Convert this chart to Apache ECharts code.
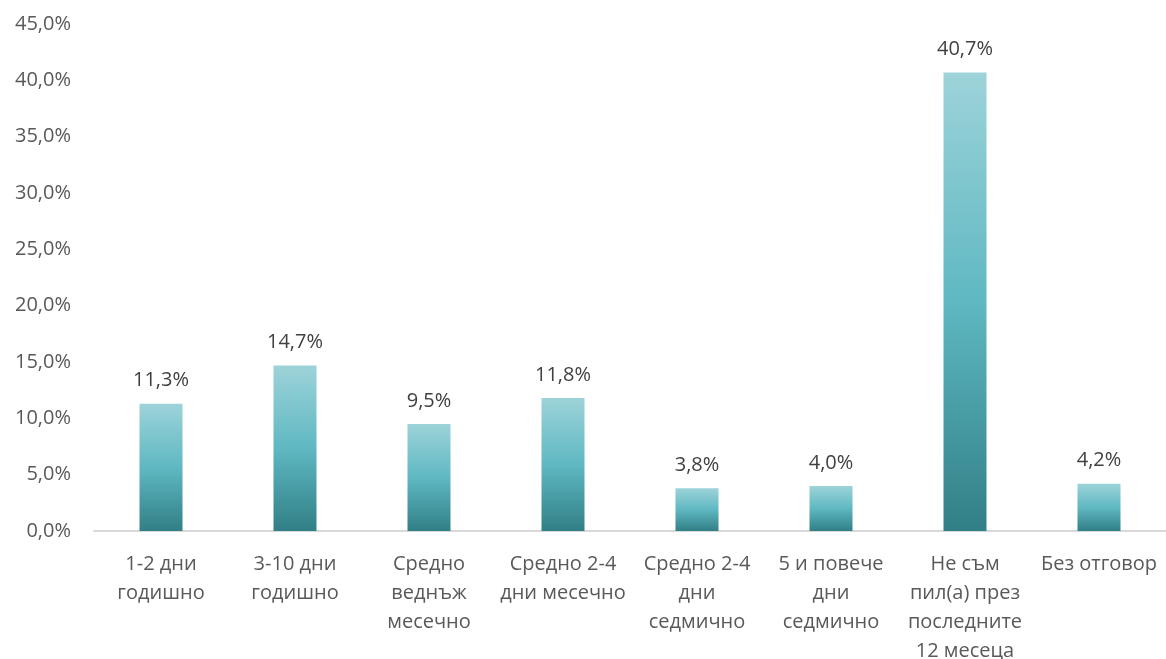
<!DOCTYPE html>
<html>
<head>
<meta charset="utf-8">
<script src="https://cdn.jsdelivr.net/npm/echarts@6/dist/echarts.min.js"></script>
<style>
  html, body { margin: 0; padding: 0; background: #fff; }
  #chart { width: 1166px; height: 659px; }
</style>
</head>
<body>
<div id="chart"></div>
<script>
const categories = [
  '1-2 дни\nгодишно',
  '3-10 дни\nгодишно',
  'Средно\nведнъж\nмесечно',
  'Средно 2-4\nдни месечно',
  'Средно 2-4\nдни\nседмично',
  '5 и повече\nдни\nседмично',
  'Не съм\nпил(а) през\nпоследните\n12 месеца',
  'Без отговор'
]
const values = [11.3, 14.7, 9.5, 11.8, 3.8, 4.0, 40.7, 4.2]
const yTicks = { min: 0, max: 45, interval: 5 }

const fmt = v => v.toFixed(1).replace('.', ',') + '%'

const chart = echarts.init(document.getElementById('chart'))
chart.setOption({
  animation: false,
  textStyle: { fontFamily: 'Open Sans' },
  grid: {
    left: 94, right: 0, top: 24, bottom: 128,
    containLabel: false,
    outerBoundsMode: 'none'
  },
  xAxis: {
    type: 'category',
    data: categories,
    axisLine: { lineStyle: { color: '#d9d9d9', width: 2 } },
    axisTick: { show: false },
    axisLabel: {
      interval: 0,
      color: '#595959',
      fontSize: 20,
      lineHeight: 29,
      margin: 19,
      verticalAlign: 'top'
    }
  },
  yAxis: {
    type: 'value',
    min: yTicks.min,
    max: yTicks.max,
    interval: yTicks.interval,
    splitLine: { show: false },
    axisLine: { show: false },
    axisTick: { show: false },
    axisLabel: {
      color: '#595959',
      fontSize: 20,
      margin: 23,
      formatter: v => fmt(v)
    }
  },
  series: [{
    type: 'bar',
    data: values,
    barWidth: 43,
    itemStyle: {
      color: new echarts.graphic.LinearGradient(0, 0, 0, 1, [
        { offset: 0, color: '#9dd3d9' },
        { offset: 0.5, color: '#5fb8c2' },
        { offset: 1, color: '#317f86' }
      ])
    },
    label: {
      show: true,
      position: 'top',
      distance: 13,
      color: '#404040',
      fontSize: 20,
      formatter: p => fmt(p.value)
    }
  }]
})
</script>
</body>
</html>
